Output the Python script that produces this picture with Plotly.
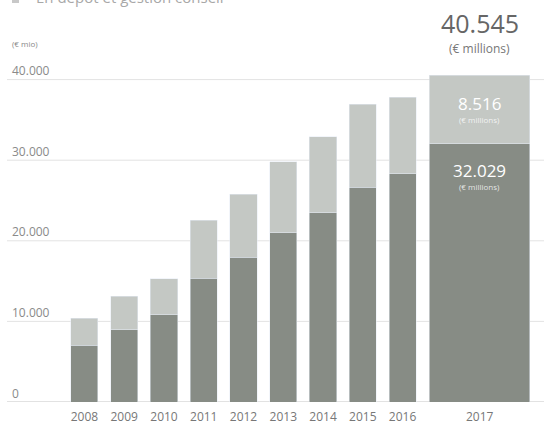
import plotly.graph_objects as go

# ---- data ----
years = ["2008", "2009", "2010", "2011", "2012", "2013", "2014", "2015", "2016"]
dark_vals = [7050, 8950, 10800, 15380, 17990, 20970, 23450, 26670, 28290]
total_vals = [10400, 13100, 15300, 22580, 25800, 29780, 32880, 36970, 37840]
light_vals = [t - d for t, d in zip(total_vals, dark_vals)]

last_year = ["2017"]
last_dark = [32029]
last_light = [8516]
last_total = [40545]

y_ticks = [0, 10000, 20000, 30000, 40000]
header_text = "En dépôt et gestion conseil"
unit_text = "(€ mio)"
millions_text = "(€ millions)"

# ---- styling ----
W, H = 544, 424
ML, MR, MT, MB = 7, 0, 0, 22
PW, PH = W - ML - MR, H - MT - MB
DARK = "#878c85"
LIGHT = "#c4c8c4"
GRID = "#e3e3e3"
FONT = "Open Sans"


def px_x(px):
    return (px - ML) / PW


def px_y(py):
    return (H - MB - py) / PH


def fmt(v):
    return f"{v:,}".replace(",", ".")


fig = go.Figure()
fig.add_trace(go.Bar(x=years, y=dark_vals, marker_color=DARK, width=0.68,
                     xaxis="x", yaxis="y", showlegend=False, hoverinfo="skip"))
fig.add_trace(go.Bar(x=years, y=light_vals, marker_color=LIGHT, width=0.68,
                     xaxis="x", yaxis="y", showlegend=False, hoverinfo="skip"))
fig.add_trace(go.Bar(x=last_year, y=last_dark, marker_color=DARK, width=1,
                     xaxis="x2", yaxis="y", showlegend=False, hoverinfo="skip"))
fig.add_trace(go.Bar(x=last_year, y=last_light, marker_color=LIGHT, width=1,
                     xaxis="x2", yaxis="y", showlegend=False, hoverinfo="skip"))

shapes = []
for v in y_ticks:
    shapes.append(dict(type="line", xref="paper", yref="y", x0=0, x1=1, y0=v, y1=v,
                       line=dict(color="#d8d8d8" if v == 0 else GRID, width=1.5 if v == 0 else 1),
                       layer="below"))
# header legend square (partly cut off at the top)
shapes.append(dict(type="rect", xref="paper", yref="paper",
                   x0=px_x(12), x1=px_x(19), y0=px_y(3), y1=px_y(-6),
                   fillcolor="#c8c8c8", line=dict(width=0)))


def bar_note(text, yval, shift, size, color):
    return dict(text=text, xref="x2 domain", yref="y", x=0.5, y=yval,
                xanchor="center", yanchor="middle", yshift=shift, showarrow=False,
                font=dict(family=FONT, size=size, color=color))


annotations = [
    dict(text=header_text, xref="paper", yref="paper", x=px_x(34), y=px_y(-3),
         xanchor="left", yanchor="middle", showarrow=False,
         font=dict(family=FONT, size=15, color="#a8a8a8")),
    dict(text=unit_text, xref="paper", yref="paper", x=px_x(10), y=px_y(44),
         xanchor="left", yanchor="middle", showarrow=False,
         font=dict(family=FONT, size=8, color="#888888")),
    bar_note(fmt(last_total[0]), last_total[0], 52, 25, "#666666"),
    bar_note(millions_text, last_total[0], 27, 12, "#777777"),
    bar_note(fmt(last_light[0]), last_dark[0] + last_light[0] / 2, 6, 17, "white"),
    bar_note(millions_text, last_dark[0] + last_light[0] / 2, -10, 8, "rgba(255,255,255,0.8)"),
    bar_note(fmt(last_dark[0]), last_dark[0], -27, 17, "white"),
    bar_note(millions_text, last_dark[0], -43, 8, "rgba(255,255,255,0.8)"),
]
# y tick labels sit left-aligned just above each gridline
for v in y_ticks:
    annotations.append(dict(text=fmt(v), xref="paper", yref="y", x=px_x(10), y=v,
                            xanchor="left", yanchor="middle", yshift=9, showarrow=False,
                            font=dict(family=FONT, size=12, color="#8a8a8a")))

y_top = 402 / 80.6 * 10000

xcommon = dict(type="category", showgrid=False, zeroline=False, showline=False, ticks="",
               tickfont=dict(size=12, color="#777777"), anchor="y",
               ticklabelstandoff=6, automargin=False)

fig.update_layout(
    width=W, height=H,
    margin=dict(l=ML, r=MR, t=MT, b=MB, pad=0, autoexpand=False),
    paper_bgcolor="white", plot_bgcolor="white",
    barmode="stack",
    separators=",.",
    font=dict(family=FONT, color="#777777"),
    shapes=shapes,
    annotations=annotations,
    xaxis=dict(domain=[px_x(64.6), px_x(422.4)], range=[-0.5, 8.5], **xcommon),
    xaxis2=dict(domain=[px_x(429.3), px_x(530)], range=[-0.5, 0.5], **xcommon),
    yaxis=dict(range=[0, y_top], tickvals=y_ticks, showticklabels=False,
               showgrid=False, zeroline=False, showline=False, ticks="",
               anchor="free", position=0, automargin=False),
)

fig.write_html("out.html")
